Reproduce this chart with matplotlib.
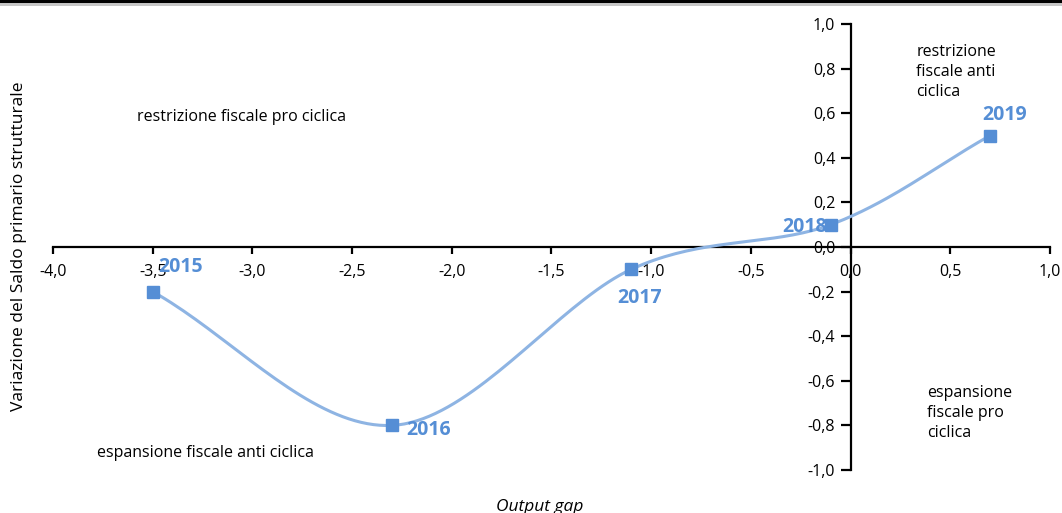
import matplotlib.pyplot as plt
import numpy as np
from matplotlib.lines import Line2D
from matplotlib.ticker import FuncFormatter

plt.rcParams['font.family'] = ['Open Sans', 'DejaVu Sans']

# Data
years = ['2015', '2016', '2017', '2018', '2019']
output_gap = [-3.5, -2.3, -1.1, -0.1, 0.7]
saldo_var = [-0.2, -0.8, -0.1, 0.1, 0.5]

blue = '#558ED5'
light_blue = '#8EB4E3'


def catmull_rom(xs, ys, n=40):
    # smooth line through the points, like the spreadsheet "smoothed line" option
    p = np.column_stack([xs, ys]).astype(float)
    p = np.vstack([2 * p[0] - p[1], p, 2 * p[-1] - p[-2]])
    out = []
    for i in range(1, len(p) - 2):
        p0, p1, p2, p3 = p[i - 1], p[i], p[i + 1], p[i + 2]
        t = np.linspace(0, 1, n)[:, None]
        seg = 0.5 * ((2 * p1) + (-p0 + p2) * t + (2 * p0 - 5 * p1 + 4 * p2 - p3) * t ** 2
                     + (-p0 + 3 * p1 - 3 * p2 + p3) * t ** 3)
        out.append(seg)
    out = np.vstack(out)
    return out[:, 0], out[:, 1]


fig = plt.figure(figsize=(10.62, 5.13), dpi=100)
ax = fig.add_axes([0.0499, 0.0838, 0.9388, 0.8694])

# smooth in pixel-like space so the curve looks like the original
sx, sy = 199.4, 223.0
cx, cy = catmull_rom(np.array(output_gap) * sx, np.array(saldo_var) * sy)
ax.plot(cx / sx, cy / sy, color=light_blue, lw=2.2, zorder=3)
ax.plot(output_gap, saldo_var, 's', color=blue, ms=8, zorder=4)

ax.set_xlim(-4, 1)
ax.set_ylim(-1, 1)
ax.set_xticks(np.arange(-4, 1.01, 0.5))
ax.set_yticks(np.arange(-1, 1.01, 0.2))
fmt = FuncFormatter(lambda v, p: f'{v:.1f}'.replace('.', ',').replace('-0,0', '0,0'))
ax.xaxis.set_major_formatter(fmt)
ax.yaxis.set_major_formatter(fmt)

for s in ['top', 'right']:
    ax.spines[s].set_visible(False)
ax.spines['left'].set_position(('data', 0))
ax.spines['bottom'].set_position(('data', 0))
ax.spines['left'].set_linewidth(1.6)
ax.spines['bottom'].set_linewidth(1.6)
ax.tick_params(axis='x', direction='out', length=5, width=1.6, pad=7, labelsize=11.5)
ax.tick_params(axis='y', direction='out', length=7, width=1.6, pad=4, labelsize=11.5)
for lab in ax.get_xticklabels() + ax.get_yticklabels():
    lab.set_zorder(5)

# year labels
offsets = {'2015': (0.14, 0.11, 'center'), '2016': (0.07, -0.02, 'left'),
           '2017': (0.04, -0.13, 'center'), '2018': (-0.13, -0.01, 'center'),
           '2019': (0.07, 0.09, 'center')}
for yr, x, y in zip(years, output_gap, saldo_var):
    dx, dy, ha = offsets[yr]
    ax.text(x + dx, y + dy, yr, color=blue, fontsize=14, fontweight='bold',
            ha=ha, va='center', zorder=6)

ax.text(-3.58, 0.585, 'restrizione fiscale pro ciclica', fontsize=11.5, va='center')
ax.text(-3.78, -0.925, 'espansione fiscale anti ciclica', fontsize=11.5, va='center')
ax.text(0.33, 0.785, 'restrizione\nfiscale anti\nciclica', fontsize=11.5, va='center',
        linespacing=1.35)
ax.text(0.385, -0.745, 'espansione\nfiscale pro\nciclica', fontsize=11.5, va='center',
        linespacing=1.35)

fig.text(0.508, 0.012, 'Output gap', fontsize=12.5, style='italic', ha='center', va='center')
fig.text(0.018, 0.52, 'Variazione del Saldo primario strutturale', fontsize=12.5,
         rotation=90, ha='center', va='center')

# top border lines
fig.add_artist(Line2D([0, 1], [0.998, 0.998], color='black', lw=2.5, transform=fig.transFigure))
fig.add_artist(Line2D([0, 1], [0.990, 0.990], color='#bbbbbb', lw=1.2, transform=fig.transFigure))

fig.savefig('out.png', dpi=100)
